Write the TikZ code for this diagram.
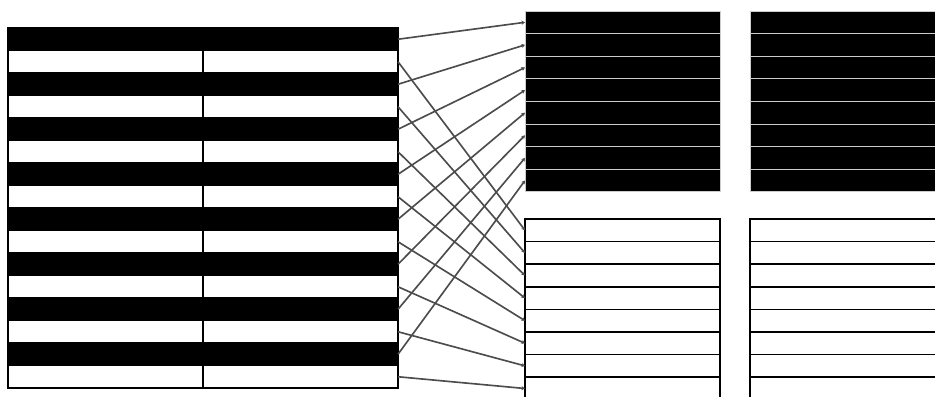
\documentclass[tikz,border=0pt]{standalone}
\usepackage{tikz}
\usetikzlibrary{arrows.meta,positioning}

\tikzset{
  row/.style={anchor=north west, inner sep=0pt, outer sep=0pt, minimum width=5.85cm},
  blackrow/.style={row, draw=black, fill=black, line width=1pt, minimum height=0.675cm},
  whiterow/.style={row, draw=black, fill=white, line width=1.4pt, minimum height=0.675cm},
  topbox/.style={row, draw=black!20, fill=black, line width=0.7pt, minimum height=0.678cm},
  lowbox/.style={row, draw=black, fill=white, line width=1.5pt, minimum height=0.678cm},
  wire/.style={draw=black!70, line width=1.4pt, -{Stealth[length=3pt,width=3.5pt]}}
}

\begin{document}
\begin{tikzpicture}[x=0.03cm, y=-0.03cm]
  \useasboundingbox (0,0) rectangle (935,396);

  % Define the sixteen input rows
  \foreach \i in {0,...,15} {
    \pgfmathsetmacro\ypos{28+22.5*\i}
    \ifodd\i
      \node[whiterow] (La\i) at (8,\ypos) {};
      \node[whiterow] (L\i) at (203,\ypos) {};
    \else
      \node[blackrow] (La\i) at (8,\ypos) {};
      \node[blackrow] (L\i) at (203,\ypos) {};
    \fi
  }

  % Define the two output blocks
  \foreach \k in {0,...,7} {
    \pgfmathsetmacro\ytop{11+22.6*\k}
    \pgfmathsetmacro\ylow{219+22.6*\k}
    \node[topbox] (T\k) at (525,\ytop) {};
    \node[topbox] (TT\k) at (750,\ytop) {};
    \node[lowbox] (B\k) at (525,\ylow) {};
    \node[lowbox] (BB\k) at (750,\ylow) {};
  }

  % Draw the connectors: even rows up, odd rows down
  \foreach \k in {0,...,7} {
    \pgfmathtruncatemacro\ev{2*\k}
    \pgfmathtruncatemacro\od{2*\k+1}
    \draw[wire] (L\ev.east) -- (T\k.west);
    \draw[wire] (L\od.east) -- (B\k.west);
  }
\end{tikzpicture}
\end{document}
